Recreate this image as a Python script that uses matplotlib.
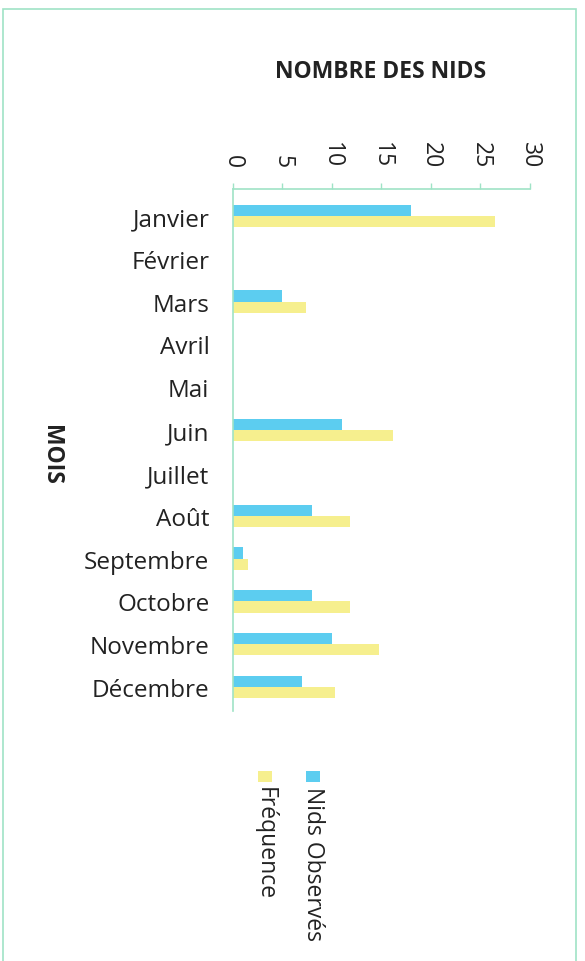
import matplotlib
matplotlib.use("Agg")
import matplotlib.pyplot as plt
from matplotlib.patches import Rectangle
import numpy as np

plt.rcParams['font.family'] = ['Open Sans', 'DejaVu Sans']

months = ["Janvier", "Février", "Mars", "Avril", "Mai", "Juin", "Juillet",
          "Août", "Septembre", "Octobre", "Novembre", "Décembre"]
nids_observes = [18, 0, 5, 0, 0, 11, 0, 8, 1, 8, 10, 7]
frequence = [26.5, 0, 7.4, 0, 0, 16.2, 0, 11.8, 1.5, 11.8, 14.7, 10.3]
xticks = [0, 5, 10, 15, 20, 25, 30]

series_names = ["Nids Observés", "Fréquence"]
blue = "#5ccdf0"
yellow = "#f6ef8e"
axis_col = "#9fe3c6"
text_col = "#222222"

W, H = 585, 962
fig = plt.figure(figsize=(W / 100, H / 100), dpi=100)
fig.patch.set_facecolor("white")

ax = fig.add_axes([233 / W, 1 - 712 / H, (530 - 233) / W, (712 - 190) / H])

y = np.arange(len(months))
h = 0.26
ax.barh(y - h / 2, nids_observes, height=h, color=blue, label=series_names[0])
ax.barh(y + h / 2, frequence, height=h, color=yellow, label=series_names[1])

ax.set_xlim(0, 30)
ax.set_ylim(len(months) - 1 + 0.56, -0.63)
ax.set_xticks(xticks)
ax.set_xticklabels([str(t) for t in xticks], rotation=-90, fontsize=16.5, color=text_col)
ax.xaxis.set_ticks_position("top")
ax.xaxis.set_label_position("top")
ax.tick_params(axis="x", direction="out", length=4, width=1, color=axis_col, pad=12)
ax.set_yticks(y)
ax.set_yticklabels(months, fontsize=17.5, color=text_col)
ax.tick_params(axis="y", length=0, pad=17)

for s in ["right", "bottom"]:
    ax.spines[s].set_visible(False)
for s in ["left", "top"]:
    ax.spines[s].set_color(axis_col)
    ax.spines[s].set_linewidth(1.2)

fig.text(381 / W, 1 - 72 / H, "NOMBRE DES NIDS", ha="center", va="center",
         fontsize=16.5, fontweight="bold", color=text_col)
fig.text(51 / W, 1 - 455 / H, "MOIS", ha="center", va="center", rotation=-90,
         fontsize=16.5, fontweight="bold", color=text_col)

# legend (rotated like the chart)
for cx, col, name in [(313, blue, series_names[0]), (265, yellow, series_names[1])]:
    fig.patches.append(Rectangle(((cx - 7) / W, 1 - 783 / H), 14 / W, 11 / H,
                                 transform=fig.transFigure, facecolor=col,
                                 edgecolor="none"))
    fig.text(cx / W, 1 - 787 / H, name, ha="center", va="top", rotation=-90,
             fontsize=16.5, color=text_col)

# frame
fig.patches.append(Rectangle((3 / W, -0.02), (576 - 3) / W, 1.02 - 10 / H,
                             transform=fig.transFigure, facecolor="none",
                             edgecolor=axis_col, linewidth=1.2))

fig.savefig("out.png", dpi=100)
